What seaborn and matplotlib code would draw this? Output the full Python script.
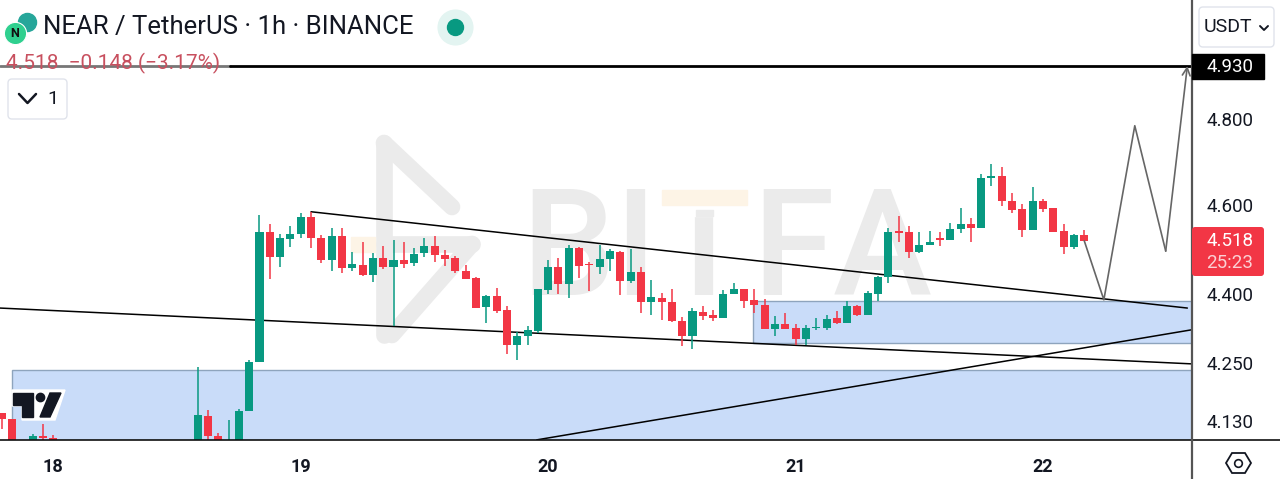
import matplotlib
matplotlib.use('Agg')
import pandas as pd
import seaborn as sns
import matplotlib.pyplot as plt
from matplotlib.patches import FancyBboxPatch, Polygon, Rectangle
from matplotlib.lines import Line2D

# Candles, hours counted from the start of the 18th
hours = [-5, -4, -2, -1, 0] + list(range(14, 101))
opens = [4.147, 4.134, 4.080, 4.098, 4.094,
         4.080, 4.141, 4.098, 4.070, 4.080, 4.151, 4.253, 4.538, 4.482, 4.522,
         4.534, 4.572, 4.525, 4.475, 4.529, 4.458, 4.464, 4.442, 4.480, 4.460,
         4.475, 4.469, 4.491, 4.507, 4.486, 4.480, 4.451, 4.435, 4.372, 4.396,
         4.365, 4.289, 4.309, 4.320, 4.409, 4.460, 4.422, 4.502, 4.466, 4.460,
         4.478, 4.493, 4.429, 4.449, 4.382, 4.391, 4.382, 4.341, 4.309, 4.361,
         4.354, 4.348, 4.400, 4.411, 4.387, 4.376, 4.324, 4.335, 4.326, 4.302,
         4.326, 4.326, 4.348, 4.337, 4.374, 4.354, 4.400, 4.438, 4.541, 4.538,
         4.493, 4.509, 4.525, 4.520, 4.545, 4.556, 4.547, 4.661, 4.666, 4.609,
         4.591, 4.543, 4.609, 4.593, 4.541, 4.504, 4.532]
closes = [4.134, 4.080, 4.098, 4.095, 4.080,
          4.143, 4.098, 4.080, 4.085, 4.151, 4.253, 4.538, 4.482, 4.525, 4.534,
          4.572, 4.525, 4.475, 4.529, 4.458, 4.466, 4.442, 4.480, 4.460, 4.475,
          4.466, 4.489, 4.507, 4.486, 4.478, 4.451, 4.433, 4.369, 4.396, 4.363,
          4.289, 4.309, 4.322, 4.411, 4.460, 4.422, 4.502, 4.462, 4.464, 4.478,
          4.495, 4.429, 4.449, 4.382, 4.393, 4.382, 4.341, 4.309, 4.363, 4.352,
          4.348, 4.400, 4.411, 4.384, 4.376, 4.324, 4.335, 4.324, 4.302, 4.326,
          4.328, 4.346, 4.337, 4.374, 4.354, 4.402, 4.438, 4.538, 4.536, 4.493,
          4.509, 4.516, 4.520, 4.545, 4.556, 4.547, 4.661, 4.666, 4.609, 4.588,
          4.543, 4.609, 4.591, 4.538, 4.504, 4.532, 4.518]
highs = [4.147, 4.134, 4.102, 4.124, 4.100,
         4.243, 4.153, 4.104, 4.132, 4.155, 4.257, 4.577, 4.556, 4.534, 4.552,
         4.581, 4.584, 4.532, 4.547, 4.547, 4.493, 4.516, 4.491, 4.507, 4.520,
         4.516, 4.502, 4.525, 4.529, 4.497, 4.484, 4.464, 4.438, 4.398, 4.413,
         4.374, 4.317, 4.330, 4.411, 4.475, 4.480, 4.509, 4.504, 4.471, 4.509,
         4.500, 4.495, 4.500, 4.460, 4.431, 4.402, 4.411, 4.350, 4.369, 4.374,
         4.365, 4.409, 4.424, 4.411, 4.411, 4.389, 4.352, 4.359, 4.335, 4.333,
         4.348, 4.354, 4.363, 4.384, 4.376, 4.406, 4.440, 4.547, 4.575, 4.552,
         4.538, 4.541, 4.538, 4.559, 4.593, 4.570, 4.671, 4.694, 4.687, 4.627,
         4.602, 4.641, 4.613, 4.593, 4.556, 4.534, 4.543]
lows = [4.114, 4.080, 4.080, 4.089, 4.080,
        4.080, 4.085, 4.080, 4.070, 4.080, 4.151, 4.253, 4.433, 4.460, 4.504,
        4.525, 4.502, 4.469, 4.451, 4.446, 4.451, 4.440, 4.427, 4.455, 4.330,
        4.458, 4.462, 4.482, 4.471, 4.462, 4.446, 4.433, 4.369, 4.337, 4.359,
        4.270, 4.257, 4.289, 4.315, 4.400, 4.400, 4.391, 4.435, 4.406, 4.444,
        4.451, 4.398, 4.424, 4.359, 4.354, 4.343, 4.339, 4.287, 4.280, 4.343,
        4.341, 4.348, 4.400, 4.369, 4.359, 4.324, 4.309, 4.324, 4.289, 4.289,
        4.322, 4.322, 4.335, 4.337, 4.352, 4.354, 4.384, 4.424, 4.516, 4.480,
        4.491, 4.509, 4.507, 4.520, 4.536, 4.516, 4.547, 4.643, 4.597, 4.581,
        4.527, 4.543, 4.584, 4.538, 4.489, 4.500, 4.518]

# Drawings on the chart (hour, price)
target_price = 4.930
upper_hours, upper_prices = [25.0, 110.0], [4.584, 4.369]
lower_hours, lower_prices = [-5.17, 110.45], [4.369, 4.249]
rising_hours, rising_prices = [46.9, 110.45], [4.091, 4.322]
path_hours = [100.0, 101.9, 104.9, 107.9]
path_prices = [4.518, 4.387, 4.785, 4.495]
arrow_hour = 110.0
zone_hours = [67.85, -4.0]
zone_tops = [4.384, 4.236]
zone_bottoms = [4.294, 4.091]

price_ticks = [4.13, 4.25, 4.40, 4.60, 4.80]
price_labels = ['4.130', '4.250', '4.400', '4.600', '4.800']
day_ticks = [0, 24, 48, 72, 96]
day_labels = ['18', '19', '20', '21', '22']

GREEN = '#089981'
RED = '#f23645'
INK = '#131722'
W, H = 1280, 479


def fx(px):
    return px / W


def fy(py):
    return 1 - py / H


def fig_line(xs, ys, **kw):
    fig.add_artist(Line2D([fx(a) for a in xs], [fy(b) for b in ys], **kw))


def fig_dot(x, y, **kw):
    fig.add_artist(Line2D([fx(x)], [fy(y)], marker='o', ls='', **kw))


sns.set_theme(style='white')
plt.rcParams['font.family'] = ['Roboto', 'DejaVu Sans']

df = pd.DataFrame({'hour': hours, 'open': opens, 'close': closes, 'high': highs, 'low': lows})
df['color'] = [GREEN if c >= o else RED for o, c in zip(df['open'], df['close'])]

fig = plt.figure(figsize=(12.8, 4.79), dpi=100, facecolor='white')
ax = fig.add_axes([0, 39 / H, 1192 / W, 440 / H])
ax.set_zorder(1)
ax.patch.set_alpha(0)
ax.set_yscale('log')

# Watermark sits behind the axes
wm = '#ebebeb'
for xs, ys in [([384, 384], [143, 335]), ([384, 452], [143, 207]),
               ([384, 472], [244, 244]), ([472, 392], [244, 335])]:
    fig_line(xs, ys, color=wm, lw=12, solid_capstyle='round', zorder=0.2)
for letter, x0 in zip(['B', 'I', 'T', 'F', 'A'], [521, 614, 659, 752, 833]):
    fig.text(fx(x0), fy(295), letter, fontsize=107, color=wm, fontweight='medium', zorder=0.2)
fig.add_artist(Rectangle((fx(655), fy(216)), 100 / W, 30 / H, color='white', zorder=0.3))
fig.add_artist(Rectangle((fx(696), fy(216)), 17 / W, 6 / H, color=wm, zorder=0.4))
fig.add_artist(Rectangle((fx(662), fy(205)), 85 / W, 15 / H, color='#fdf4e6', zorder=0.4))
fig.add_artist(Rectangle((fx(351), fy(252)), 24 / W, 15 / H, color='#fdf4e6', zorder=0.4))

# Supply/demand zones
for z_h, top, bottom in zip(zone_hours, zone_tops, zone_bottoms):
    ax.add_patch(Rectangle((z_h, bottom), 120 - z_h, top - bottom, facecolor='#c9dcf9',
                           edgecolor='#8ea4bd', lw=1, zorder=1))

# Trend lines
sns.lineplot(x=upper_hours, y=upper_prices, ax=ax, color='black', lw=1.1, zorder=2)
sns.lineplot(x=lower_hours, y=lower_prices, ax=ax, color='black', lw=1.1, zorder=2)
sns.lineplot(x=rising_hours, y=rising_prices, ax=ax, color='black', lw=1.1, zorder=2)
sns.lineplot(x=[-5.17, 17.14], y=[target_price] * 2, ax=ax, color='#777777', lw=2.0, zorder=2)
sns.lineplot(x=[17.14, 110.45], y=[target_price] * 2, ax=ax, color='black', lw=2.0, zorder=2)

# Candles
ax.vlines(df['hour'], df['low'], df['high'], colors=df['color'], lw=1.1, zorder=3)
ax.bar(df['hour'], (df['close'] - df['open']).abs(), bottom=df[['open', 'close']].min(axis=1),
       width=0.78, color=df['color'], linewidth=0, zorder=3)

# Projected path, ending in an arrow at the target
sns.lineplot(x=path_hours, y=path_prices, ax=ax, color='#666666', lw=1.2, sort=False, zorder=4)
ax.annotate('', xy=(arrow_hour, target_price), xytext=(path_hours[-1], path_prices[-1]),
            arrowprops=dict(arrowstyle='->', color='#666666', lw=1.2, shrinkA=0, shrinkB=0,
                            mutation_scale=14), zorder=4)

ax.set_xlim(-5.17, 110.45)
ax.set_ylim(4.0907, 5.0947)
ax.set_xticks(day_ticks)
ax.set_xticklabels(day_labels, fontsize=13, color=INK, fontweight='semibold')
ax.yaxis.tick_right()
ax.set_yticks(price_ticks)
ax.set_yticklabels(price_labels, fontsize=13.5, color=INK)
ax.minorticks_off()
ax.tick_params(axis='x', length=0, pad=13)
ax.tick_params(axis='y', length=0, pad=10.5)
ax.set_xlabel('')
ax.set_ylabel('')
for name in ['top', 'left', 'right', 'bottom']:
    ax.spines[name].set_visible(False)

# Frame lines of the chart pane
fig_line([0, W], [440, 440], color='#111111', lw=1.2, zorder=5)
fig_line([1192, 1192], [0, H], color='#555555', lw=1.6, zorder=5)

# Header
fig.text(fx(43), fy(27), 'NEAR / TetherUS · 1h · BINANCE', fontsize=18.5, color=INK, va='center', zorder=7)
fig.text(fx(6), fy(63), '4.518  −0.148 (−3.17%)', fontsize=15, color='#c8505f', va='center', zorder=7)
fig_dot(455, 27, ms=25, color='#e3f4f1', zorder=5)
fig_dot(455, 27, ms=11.5, color=GREEN, zorder=6)
fig_dot(27, 22, ms=13, color='#26a69a', zorder=5)
fig_dot(15, 33, ms=16, color='#2fd08f', markeredgecolor='white', markeredgewidth=0.8, zorder=6)
fig.text(fx(15), fy(33.5), 'N', fontsize=9, color='#111111', fontweight='bold', ha='center',
         va='center', zorder=7)

# Buttons
for x0, y0, x1, y1 in [(8, 79, 67, 119), (1199, 7, 1274, 47)]:
    fig.add_artist(FancyBboxPatch((x0, H - y1), x1 - x0, y1 - y0, boxstyle='round,pad=0,rounding_size=4',
                                  transform=None, facecolor='white', edgecolor='#e0e3eb', lw=1, zorder=6))
fig_line([19, 27.5, 36], [94, 103, 94], color=INK, lw=1.8, zorder=7)
fig.text(fx(53), fy(99), '1', fontsize=14, color=INK, ha='center', va='center', zorder=7)
fig.text(fx(1204), fy(27), 'USDT', fontsize=14, color=INK, va='center', zorder=7)
fig_line([1260, 1264, 1268], [26, 30, 26], color=INK, lw=1.4, zorder=7)

# Price tags
fig.add_artist(Rectangle((fx(1192), fy(79)), 72 / W, 25 / H, color='black', zorder=6))
fig.text(fx(1230), fy(66.5), '4.930', fontsize=13.5, color='white', ha='center', va='center', zorder=7)
fig.add_artist(FancyBboxPatch((1192, H - 276), 72, 49, boxstyle='round,pad=0,rounding_size=3', transform=None,
                              facecolor=RED, edgecolor='none', zorder=6))
fig.text(fx(1230), fy(241), '4.518', fontsize=13.5, color='white', ha='center', va='center', zorder=7)
fig.text(fx(1230), fy(263), '25:23', fontsize=13.5, color='#fbd0d4', ha='center', va='center', zorder=7)

# TradingView mark
tv_bg = [(12, 390), (65, 390), (55, 420), (22, 420), (22, 406), (12, 406)]
tv_shapes = [[(13, 393), (33, 393), (33, 417), (22, 417), (22, 405), (13, 405)],
             [(61, 393), (50, 417), (40, 417), (50, 393)]]
fig.add_artist(Polygon([(fx(a), fy(b)) for a, b in tv_bg], closed=True, color='white', zorder=5))
for shape in tv_shapes:
    fig.add_artist(Polygon([(fx(a), fy(b)) for a, b in shape], closed=True, color=INK, zorder=6))
fig_dot(40, 397, ms=6, color=INK, zorder=6)

# Settings hexagon
hex_pts = [(1226, 463), (1232, 453), (1245, 453), (1251, 463), (1245, 473), (1232, 473)]
fig.add_artist(Polygon([(fx(a), fy(b)) for a, b in hex_pts], closed=True, fill=False, edgecolor=INK, lw=1.3, zorder=6))
fig_dot(1238, 463, ms=5.5, mfc='white', mec=INK, mew=1.2, zorder=6)

fig.savefig('out.png', dpi=100)
